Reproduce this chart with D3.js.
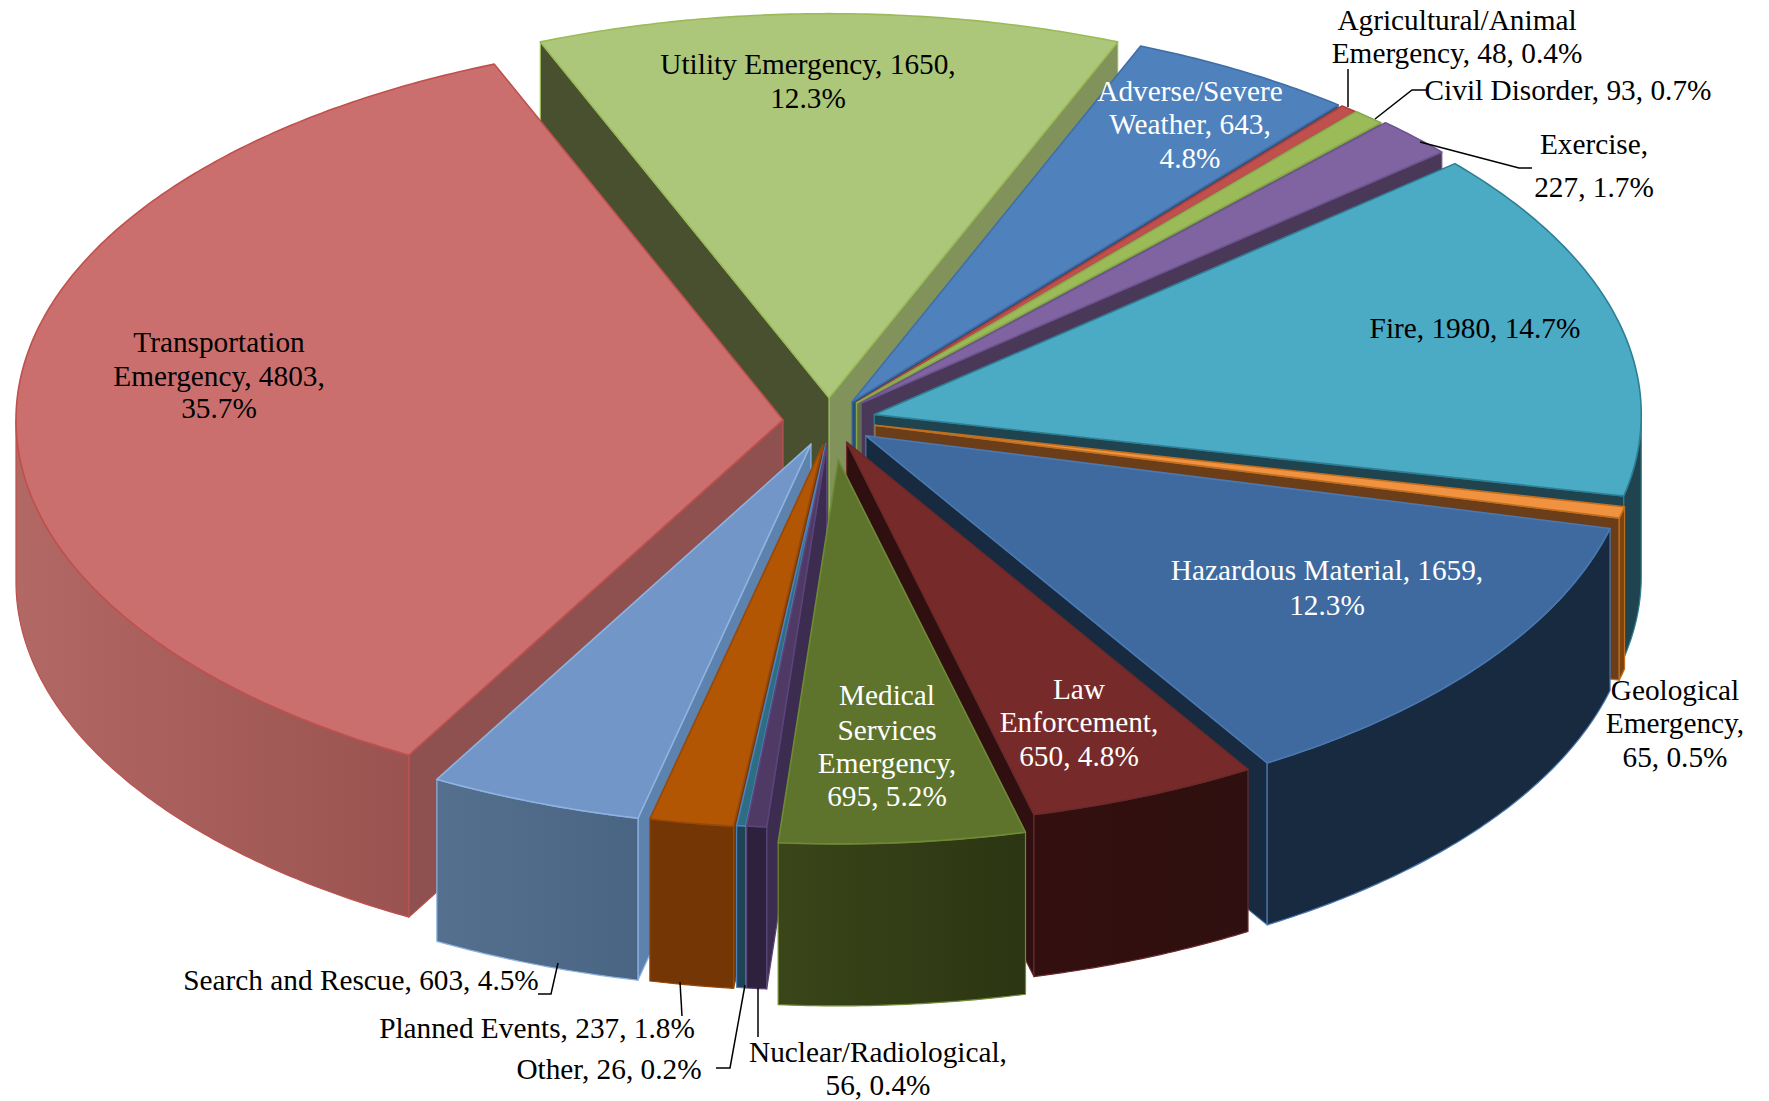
<!DOCTYPE html>
<html><head><meta charset="utf-8">
<script src="https://cdn.jsdelivr.net/npm/d3@7/dist/d3.min.js"></script>
<style>html,body{margin:0;padding:0;background:#fff}svg{display:block}</style>
</head><body><svg id="c" width="1769" height="1101"></svg>
<script>
// ---------- data ----------
const categories = ["Utility Emergency","Adverse/Severe Weather","Agricultural/Animal Emergency","Civil Disorder","Exercise","Fire","Geological Emergency","Hazardous Material","Law Enforcement","Medical Services Emergency","Nuclear/Radiological","Other","Planned Events","Search and Rescue","Transportation Emergency"];
const values = [1650,643,48,93,227,1980,65,1659,650,695,56,26,237,603,4803];
const percents = ["12.3%","4.8%","0.4%","0.7%","1.7%","14.7%","0.5%","12.3%","4.8%","5.2%","0.4%","0.2%","1.8%","4.5%","35.7%"];
// ---------- label line breaks (characters of "name, value, pct" per line) ----------
const labelBreaks = [[24],[15,28],[19],[],[9],[],[10,21],[26],[3,16],[7,16,27],[21],[],[],[],[14,31]];
// ---------- explosion of each slice, as a fraction of the radius ----------
const explodeX = [0,.03,.035,.036,.042,.059,.06,.048,.023,.012,-.003,-.004,-.008,-.0235,-.06];
const explodeY = [-.066,-.055,-.052,-.052,-.052,-.022,.006,.033,.05,.096,.055,.055,.057,.055,-.008];
// ---------- colours ----------
const topFill   = ["#ACC779","#4F81BD","#C0504D","#9BBB59","#8064A2","#4BAAC4","#F0923F","#3E6AA0","#772A2A","#5E742D","#4F3A66","#2E6E85","#B25604","#7296C8","#CA6F6D"];
const startWall = ["#49502F","#2E4D73","#7A3533","#60733A","#4A3859","#1F444F","#6B3D18","#182A40","#2F0F0F","#2C3512","#3B2C50","#1C4454","#733604","#5D82AD","#8F514F"];
const endWall   = ["#81935A","#2E4D73","#7A3533","#60733A","#4A3859","#1F444F","#6B3D18","#182A40","#2F0F0F","#2C3512","#2E213D","#1C4454","#733604","#4A6484","#8F514F"];
const outerA    = ["#49502F","#2E4D73","#7A3533","#60733A","#4A3859","#1F444F","#7E430F","#182A40","#340F0F","#3A4519","#2E213D","#1C4454","#733604","#55708F","#B26864"];
const outerB    = ["#49502F","#2E4D73","#7A3533","#60733A","#4A3859","#1F444F","#7E430F","#182A40","#2F0F0F","#2C3512","#2E213D","#1C4454","#733604","#4A6484","#9A5350"];
const edge      = ["#9BBB59","#3F6EA8","#A9403D","#8AA84E","#6E5590","#2E7F94","#C06F1F","#4A78B0","#6B2A2A","#6F8A35","#5A4478","#4F81BD","#96480A","#8DB3E2","#C0504D"];
const labelFill = ["#000","#fff","#000","#000","#000","#000","#000","#fff","#fff","#fff","#000","#000","#000","#000","#000"];
// ---------- painter's order, back to front ----------
const drawOrder = [0,1,2,3,4,5,6,7,14,13,12,11,10,8,9];
// ---------- label anchors (text centre x, y of each line's middle) ----------
const labelX = [808,1190,1457,1568,1594,1475,1675,1327,1079,887,878,609,537,361,219];
const labelY = [[64,98],[91,124,158],[20,53],[90],[144,187],[328],[690,723,757],[570,605],[689,722,756],[695,730,763,796],[1052,1085],[1069],[1028],[980],[342,376,408]];
// ---------- leader lines, as [x,y] vertices, for the outside labels ----------
const leaders = [
  [[1348,69],[1348,107]],
  [[1426,90],[1412,90],[1375,119]],
  [[1420,142],[1519,168],[1532,168]],
  [[558,963],[551,994],[538,994]],
  [[680,982],[682,1016]],
  [[745,985],[730,1068],[716,1068]],
  [[758,988],[758,1037]]
];
const W = 1769, H = 1101, cx = 829, cy = 423, rx = 767, ry = 384, depth = 162;
const fontSize = 29.3;

const svg = d3.select("#c");
const defs = svg.append("defs");
const x = d3.scaleLinear().domain([-1,1]).range([cx-rx,cx+rx]);
const y = d3.scaleLinear().domain([-1,1]).range([cy-ry,cy+ry]);
const total = d3.sum(values);
const start = -Math.PI * values[0] / total;
const arcs = d3.pie().sort(null).value(d=>d).startAngle(start).endAngle(start+2*Math.PI)(values);
const line = d3.line().x(d=>d[0]).y(d=>d[1]);

function rim(i,a0,a1,dz){
  const n = Math.max(2,Math.ceil((a1-a0)/0.01));
  return d3.range(n+1).map(k=>{
    const a = a0+(a1-a0)*k/n;
    return [x(Math.sin(a)+explodeX[i]), y(-Math.cos(a)+explodeY[i])+dz];
  });
}
function apex(i,dz){ return [x(explodeX[i]), y(explodeY[i])+dz]; }
function sideWall(i,a){
  const r = rim(i,a,a,0)[0];
  return [apex(i,0),r,[r[0],r[1]+depth],apex(i,depth)];
}

drawOrder.forEach(i=>{
  const d = arcs[i], a0=d.startAngle, a1=d.endAngle;
  const g = svg.append("g").attr("class","slice").datum(categories[i]);
  const sw = 1.2;
  if(Math.sin(a1)>0) g.append("path").attr("d",line(sideWall(i,a1))+"Z").attr("fill",endWall[i]).attr("stroke",edge[i]).attr("stroke-width",sw).attr("stroke-linejoin","round");
  if(Math.sin(a0)<0) g.append("path").attr("d",line(sideWall(i,a0))+"Z").attr("fill",startWall[i]).attr("stroke",edge[i]).attr("stroke-width",sw).attr("stroke-linejoin","round");
  const v0=Math.max(a0,Math.PI/2), v1=Math.min(a1,3*Math.PI/2);
  if(v1>v0){
    const up=rim(i,v0,v1,0), dn=rim(i,v0,v1,depth).reverse();
    const id="o"+i, xs=up.map(p=>p[0]);
    const grad=defs.append("linearGradient").attr("id",id).attr("gradientUnits","userSpaceOnUse")
      .attr("x1",d3.min(xs)).attr("x2",d3.max(xs)).attr("y1",0).attr("y2",0);
    grad.append("stop").attr("offset",0).attr("stop-color",outerA[i]);
    grad.append("stop").attr("offset",1).attr("stop-color",outerB[i]);
    g.append("path").attr("d",line(up.concat(dn))+"Z").attr("fill",`url(#${id})`).attr("stroke",edge[i]).attr("stroke-width",sw).attr("stroke-linejoin","round");
  }
  const top=[apex(i,0)].concat(rim(i,a0,a1,0));
  g.append("path").attr("d",line(top)+"Z").attr("fill",topFill[i]).attr("stroke",edge[i]).attr("stroke-width",1.6).attr("stroke-linejoin","round");
});

svg.append("g").selectAll("path").data(leaders).join("path")
  .attr("d",d=>line(d)).attr("fill","none").attr("stroke","#000").attr("stroke-width",1.5);

const tg = svg.append("g").attr("font-family","'Liberation Serif','Times New Roman',serif").attr("font-size",fontSize);
categories.forEach((c,i)=>{
  const full = `${c}, ${values[i]}, ${percents[i]}`;
  const cuts=[0,...labelBreaks[i],full.length];
  d3.pairs(cuts).forEach(([s,e],k)=>{
    tg.append("text").attr("x",labelX[i]).attr("y",labelY[i][k]).attr("dy","0.34em")
      .attr("text-anchor","middle").attr("fill",labelFill[i]).text(full.slice(s,e).trim());
  });
});
</script></body></html>
